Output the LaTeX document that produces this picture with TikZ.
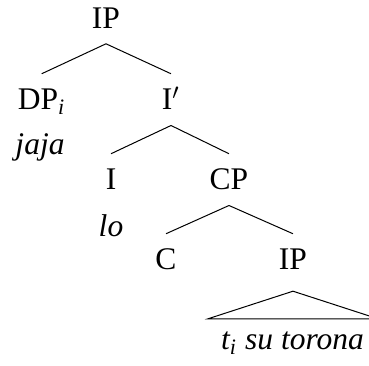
\documentclass[tikz,border=0pt]{standalone}
\usepackage{fontspec}
\setmainfont{Liberation Serif}
\usetikzlibrary{positioning}

\tikzset{cat/.style={anchor=base,font=\fontsize{12.6}{15}\selectfont,text height=8.3pt,text depth=0pt,inner sep=6pt},
         word/.style={anchor=base,font=\fontsize{12.6}{15}\selectfont\itshape,inner sep=0pt}}

\begin{document}
\begin{tikzpicture}[x=0.4pt,y=-0.4pt]
            \useasboundingbox (0,0) rectangle (369,366);

            \node[cat](ip) at (106,28.3){IP};
            \node[cat](dp) at (41.7,110){DP\textsubscript{\textit{i}}};
            \node[cat](ibar) at (171,110){I$'$};
            \node[word](jaja) at (40,155){jaja};
            \node[cat](i) at (111,190){I};
            \node[cat](cp) at (229,190){CP};
            \node[word](lo) at (111,237){lo};
            \node[cat](c) at (166,270){C};
            \node[cat](ipb) at (293,270){IP};
            \node[word](ts) at (292.5,350){t\textsubscript{i} su torona};

            \draw(ip.south)--(dp.north);
            \draw(ip.south)--(ibar.north);
            \draw(ibar.south)--(i.north);
            \draw(ibar.south)--(cp.north);
            \draw(cp.south)--(c.north);
            \draw(cp.south)--(ipb.north);

            \draw(ipb.south)++(0,5.7)coordinate(top)--++(-85,27.6)--++(170,0)--cycle;

        \end{tikzpicture}
\end{document}
